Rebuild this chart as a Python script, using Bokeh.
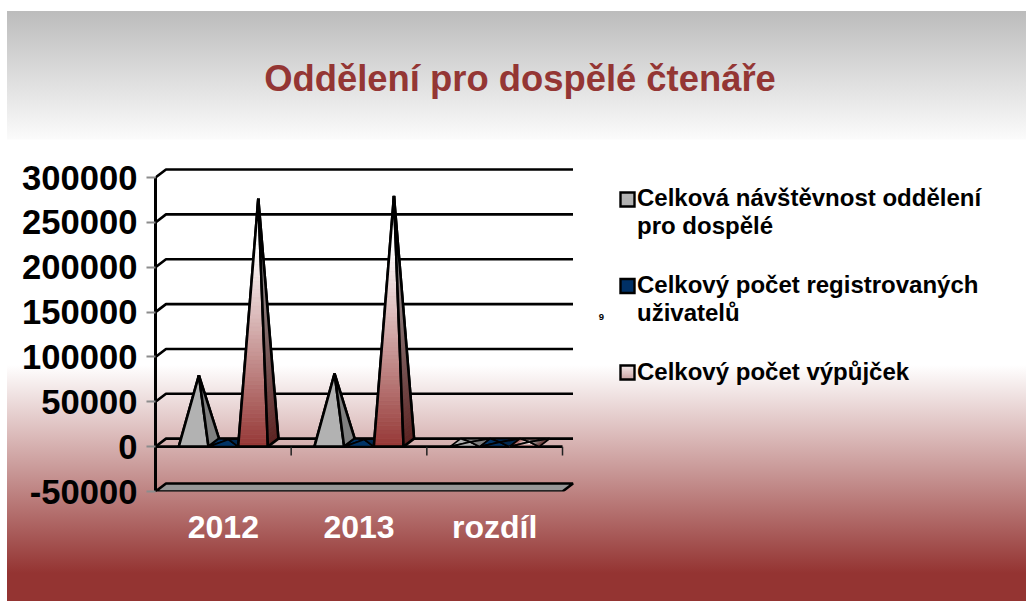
from bokeh.plotting import figure
from bokeh.models import Legend, LegendItem, FixedTicker, LinearAxis
from bokeh.core.properties import value
from bokeh.embed import file_html
from bokeh.resources import INLINE

TITLE = "Oddělení pro dospělé čtenáře"
categories = ["2012", "2013", "rozdíl"]
series_names = ["Celková návštěvnost oddělení\npro dospělé",
                "Celkový počet registrovaných\nuživatelů",
                "Celkový počet výpůjček"]
visits = [75000, 77000, 700]
users = [3500, 3500, 500]
loans = [272000, 275000, 800]
y_ticks = [-50000, 0, 50000, 100000, 150000, 200000, 250000, 300000]
FONT = "Liberation Sans"

W, H = 1026, 601
FL_X, FB_Y = 155, 491     # frame left and bottom, px
PX_X = 135.67
PX_Y = 50000 / 44.85
p = figure(width=W, height=H, output_backend="svg", toolbar_location=None,
           x_range=(0, (W - FL_X) / PX_X), y_range=(-50000, -50000 + FB_Y * PX_Y),
           min_border_left=FL_X, min_border_right=0, min_border_top=0, min_border_bottom=H - FB_Y,
           x_axis_type=None, y_axis_type=None, border_fill_color=None, background_fill_color=None,
           outline_line_color=None)
p.styles = {"background": "linear-gradient(to right, #ffffff 7px, transparent 7px), "
                          "linear-gradient(to bottom, #ffffff 11px, #bcbcbc 11px, #fbfbfb 139px, "
                          "#ffffff 140px, #ffffff 365px, #943432 573px, #943432 601px)"}
p.grid.visible = False


def px_x(px):
    return (px - FL_X) / PX_X


def px_y(py):
    return -50000 + (FB_Y - py) * PX_Y


DX = 10.5 / PX_X          # depth offset of the 3D box, in category units
DY = 8 * PX_Y             # depth offset, in value units
LW = 2.6


def lerp(a, b, t):
    return a + (b - a) * t


def shade(c, f):
    return tuple(int(round(v * f)) for v in c)


def css(c):
    return "#%02x%02x%02x" % tuple(c)


# floor
p.patch([0, 3, 3 + DX, DX], [-50000, -50000, -50000 + DY, -50000 + DY],
        fill_color="#969696", line_color="black", line_width=LW)
# back wall gridlines, with the slanted side-wall stubs
grid_vals = [v for v in y_ticks if v >= 0]
p.multi_line([[0, DX, 3 + DX] for _ in grid_vals], [[v, v + DY, v + DY] for v in grid_vals],
             line_color="black", line_width=LW)
# zero plane front edge and category ticks
p.line([0, 3], [0, 0], line_color="black", line_width=LW)
p.segment([1, 2, 3], [0, 0, 0], [1, 2, 3], [-10000] * 3, line_color="#222222", line_width=1.5)

BAR = 29.7 / PX_X
GAP = (1 - 3 * BAR) / 2
styles = [
    (visits, (178, 178, 178), (178, 178, 178), 0.72),
    (users, (0, 51, 102), (0, 51, 102), 0.8),
    (loans, (255, 255, 255), (149, 55, 53), 0.62),
]
legend_items = []
N = 60
for s, (vals, top, bottom, dark) in enumerate(styles):
    for c, val in enumerate(vals):
        x0 = c + GAP + s * BAR
        x1 = x0 + BAR
        FL, FR, BR, BL = (x0, 0), (x1, 0), (x1 + DX, DY), (x0 + DX, DY)
        A = ((x0 + x1 + DX) / 2, val + DY / 2)
        faces = [((BL, BR), dark), ((FL, BL), 1.0), ((FL, FR), 1.0), ((FR, BR), dark)]
        lw = LW if val > 10000 else 1.7
        n = N if val > 10000 else 6
        for (P, Q), f in faces:
            xs = [P[0], Q[0], A[0]]
            ys = [P[1], Q[1], A[1]]
            base = css(shade(tuple(lerp(a, b, 0.5) for a, b in zip(top, bottom)), f))
            p.patch(xs, ys, fill_color=base, line_color=None)
            if top != bottom:
                sx, sy, sc = [], [], []
                for k in range(n):
                    t0, t1 = k / n, (k + 1) / n
                    sx.append([lerp(P[0], A[0], t0), lerp(Q[0], A[0], t0),
                               lerp(Q[0], A[0], t1), lerp(P[0], A[0], t1)])
                    sy.append([lerp(P[1], A[1], t0), lerp(Q[1], A[1], t0),
                               lerp(Q[1], A[1], t1), lerp(P[1], A[1], t1)])
                    mid = min(1.0, ((t0 + t1) / 2) / 0.8)
                    sc.append(css(shade(tuple(lerp(b, a, mid) for a, b in zip(top, bottom)), f)))
                p.patches(sx, sy, fill_color=sc, line_color=sc, line_width=0.6)
            p.patch(xs, ys, fill_color=None, line_color="black", line_width=lw, line_join="bevel")
    q = p.patch([0, 0], [0, 0], fill_color=None, line_color=None)
    legend_items.append(LegendItem(label=series_names[s], renderers=[q]))

# legend swatches, aligned with the first line of each entry
sw_tops = [192, 278.5, 365]
for top_px, (t, b) in zip(sw_tops, [("#ababab", "#a6a6a6"), ("#003366", "#003366"), ("#f2e6e6", "#c49a9a")]):
    rows = 14
    tc = [int(t[i:i + 2], 16) for i in (1, 3, 5)]
    bc = [int(b[i:i + 2], 16) for i in (1, 3, 5)]
    cols = [css(tuple(int(lerp(u, v, i / (rows - 1))) for u, v in zip(tc, bc))) for i in range(rows)]
    p.quad(left=px_x(620), right=px_x(634),
           top=[px_y(top_px + i) for i in range(rows)], bottom=[px_y(top_px + i + 1) for i in range(rows)],
           fill_color=cols, line_color=cols, line_width=0.3)
    p.patch([px_x(620), px_x(634), px_x(634), px_x(620)],
            [px_y(top_px), px_y(top_px), px_y(top_px + 14), px_y(top_px + 14)],
            fill_color=None, line_color="black", line_width=2.4, line_join="miter")

yax = LinearAxis(ticker=FixedTicker(ticks=y_ticks), bounds=(-50000, 300000),
                 major_label_overrides={v: str(v) for v in y_ticks},
                 axis_line_color="black", axis_line_width=3,
                 major_tick_in=0, major_tick_out=9, major_tick_line_color="#8c8c8c", major_tick_line_width=2,
                 minor_tick_line_color=None, major_label_standoff=9,
                 major_label_text_font=FONT, major_label_text_font_style="bold",
                 major_label_text_font_size="34.6px", major_label_text_color="black")
p.add_layout(yax, "left")

xax = LinearAxis(ticker=FixedTicker(ticks=[0.5, 1.5, 2.5]),
                 major_label_overrides={0.5: categories[0], 1.5: categories[1], 2.5: categories[2]},
                 axis_line_color=None, major_tick_line_color=None, minor_tick_line_color=None,
                 major_label_standoff=11, major_label_text_font=FONT, major_label_text_font_style="bold",
                 major_label_text_font_size="32px", major_label_text_color="white")
p.add_layout(xax, "below")

p.text(x=[px_x(519.5)], y=[px_y(78)], text=[TITLE], text_font=value(FONT), text_font_style="bold",
       text_font_size="36.4px", text_color="#943634", text_align="center", text_baseline="middle")
p.text(x=[px_x(601)], y=[px_y(316)], text=["9"], text_font=value(FONT), text_font_style="bold",
       text_font_size="9.5px", text_color="black", text_align="center", text_baseline="middle")

legend = Legend(items=legend_items, location=(464, 105), background_fill_alpha=0, border_line_color=None,
                label_text_font=FONT, label_text_font_style="bold", label_text_font_size="24px",
                label_text_color="black", label_text_line_height=1.08, glyph_width=14, glyph_height=14,
                spacing=31, padding=0, margin=0, label_standoff=4)
p.add_layout(legend, "center")

open("out.html", "w").write(file_html(p, INLINE))
